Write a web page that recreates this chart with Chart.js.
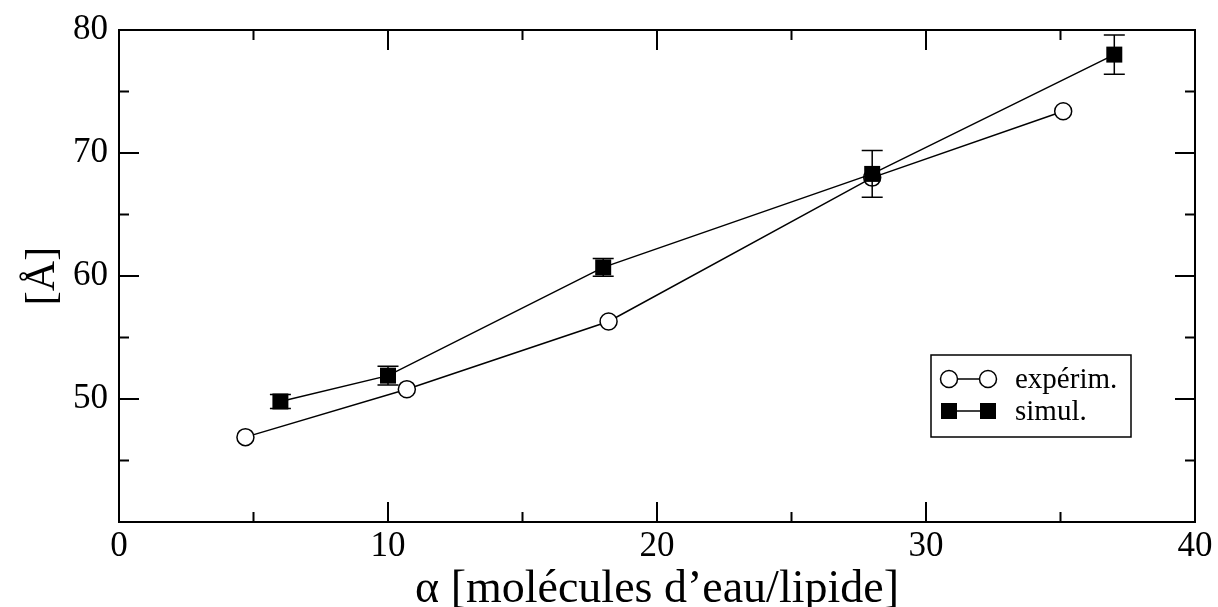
<!DOCTYPE html>
<html>
<head>
<meta charset="utf-8">
<script src="https://cdn.jsdelivr.net/npm/chart.js@4/dist/chart.umd.min.js"></script>
<style>
  html, body { margin: 0; padding: 0; background: #fff; }
  #wrap { width: 1218px; height: 607px; }
</style>
</head>
<body>
<div id="wrap"><canvas id="c" width="1218" height="607"></canvas></div>
<script>
// experimental values
const expX = [4.7, 10.7, 18.2, 28.0, 35.1]
const expY = [46.9, 50.8, 56.3, 68.0, 73.4]

// simulation values with error bars
const simX = [6, 10, 18, 28, 37]
const simY = [49.8, 51.9, 60.7, 68.3, 78.0]
const simErr = [0.57, 0.77, 0.73, 1.9, 1.59]

const xMajor = [0, 10, 20, 30, 40]
const xMinor = [5, 15, 25, 35]
const yMajor = [50, 60, 70]
const yMinor = [45, 55, 65, 75]

const serif = "'Liberation Serif', 'DejaVu Serif', serif"

const frame = {
  id: "frame",
  afterDatasetsDraw(chart) {
    const { ctx, chartArea: a, scales } = chart
    const xs = scales.x, ys = scales.y
    ctx.save()
    ctx.strokeStyle = "#000"
    ctx.lineWidth = 2
    ctx.strokeRect(a.left, a.top, a.right - a.left, a.bottom - a.top)

    ctx.beginPath()
    xMajor.forEach(v => {
      const p = xs.getPixelForValue(v)
      ctx.moveTo(p, a.bottom); ctx.lineTo(p, a.bottom - 20)
      ctx.moveTo(p, a.top); ctx.lineTo(p, a.top + 20)
    })
    xMinor.forEach(v => {
      const p = xs.getPixelForValue(v)
      ctx.moveTo(p, a.bottom); ctx.lineTo(p, a.bottom - 10)
      ctx.moveTo(p, a.top); ctx.lineTo(p, a.top + 10)
    })
    yMajor.forEach(v => {
      const p = ys.getPixelForValue(v)
      ctx.moveTo(a.left, p); ctx.lineTo(a.left + 20, p)
      ctx.moveTo(a.right, p); ctx.lineTo(a.right - 20, p)
    })
    yMinor.forEach(v => {
      const p = ys.getPixelForValue(v)
      ctx.moveTo(a.left, p); ctx.lineTo(a.left + 10, p)
      ctx.moveTo(a.right, p); ctx.lineTo(a.right - 10, p)
    })
    ctx.stroke()

    // error bars on simul
    ctx.lineWidth = 1.5
    ctx.beginPath()
    simX.forEach((x, i) => {
      const px = xs.getPixelForValue(x)
      const top = ys.getPixelForValue(simY[i] + simErr[i])
      const bot = ys.getPixelForValue(simY[i] - simErr[i])
      ctx.moveTo(px, top); ctx.lineTo(px, bot)
      ctx.moveTo(px - 10.5, top); ctx.lineTo(px + 10.5, top)
      ctx.moveTo(px - 10.5, bot); ctx.lineTo(px + 10.5, bot)
    })
    ctx.stroke()

    // legend box
    const lx = a.right - 264, ly = a.bottom - 167
    ctx.lineWidth = 1.5
    ctx.strokeRect(lx, ly, 200, 82)
    const rows = [
      { label: "expérim.", y: ly + 24, style: "circle" },
      { label: "simul.", y: ly + 56, style: "rect" }
    ]
    ctx.font = "29px " + serif
    ctx.textBaseline = "middle"
    ctx.fillStyle = "#000"
    rows.forEach(r => {
      const x1 = lx + 18, x2 = lx + 57
      ctx.beginPath(); ctx.moveTo(x1, r.y); ctx.lineTo(x2, r.y); ctx.stroke()
      ;[x1, x2].forEach(px => {
        if (r.style === "circle") {
          ctx.beginPath(); ctx.arc(px, r.y, 8.5, 0, Math.PI * 2)
          ctx.fillStyle = "#fff"; ctx.fill(); ctx.stroke()
        } else {
          ctx.fillStyle = "#000"; ctx.fillRect(px - 8, r.y - 8, 16, 16)
        }
      })
      ctx.fillStyle = "#000"
      ctx.fillText(r.label, lx + 84, r.y + 1)
    })
    ctx.restore()
  }
}

new Chart(document.getElementById("c").getContext("2d"), {
  type: "scatter",
  data: {
    datasets: [
      {
        label: "expérim.",
        data: expX.map((x, i) => ({ x, y: expY[i] })),
        showLine: true,
        borderColor: "#000",
        borderWidth: 1.5,
        pointStyle: "circle",
        pointRadius: 8.5,
        pointBackgroundColor: "#fff",
        pointBorderColor: "#000",
        pointBorderWidth: 1.5,
        order: 2
      },
      {
        label: "simul.",
        data: simX.map((x, i) => ({ x, y: simY[i] })),
        showLine: true,
        borderColor: "#000",
        borderWidth: 1.5,
        pointStyle: "rect",
        pointRadius: 11.3,
        pointBackgroundColor: "#000",
        pointBorderColor: "#000",
        pointBorderWidth: 0,
        order: 1
      }
    ]
  },
  options: {
    responsive: false,
    animation: false,
    layout: { padding: { top: 30, right: 23, left: 0, bottom: 0 } },
    plugins: { legend: { display: false }, tooltip: { enabled: false } },
    scales: {
      x: {
        type: "linear",
        min: 0, max: 40,
        afterFit: s => { s.height = 85 },
        grid: { display: false, drawTicks: false },
        border: { display: false },
        ticks: {
          stepSize: 10, padding: 4, color: "#000",
          font: { family: serif, size: 35 }
        },
        title: {
          display: true, text: "α [molécules d’eau/lipide]", color: "#000",
          font: { family: serif, size: 46, lineHeight: 0.74 }, padding: { top: 0, bottom: 0 }
        }
      },
      y: {
        type: "linear",
        min: 40, max: 80,
        afterFit: s => { s.width = 119 },
        grid: { display: false, drawTicks: false },
        border: { display: false },
        ticks: {
          stepSize: 10, padding: 11, color: "#000",
          font: { family: serif, size: 35, lineHeight: 1 },
          callback: v => v === 40 ? "" : v
        },
        title: {
          display: true, text: "[Å]", color: "#000",
          font: { family: serif, size: 42 }, padding: { top: 18, bottom: 0 }
        }
      }
    }
  },
  plugins: [frame]
})
</script>
</body>
</html>
